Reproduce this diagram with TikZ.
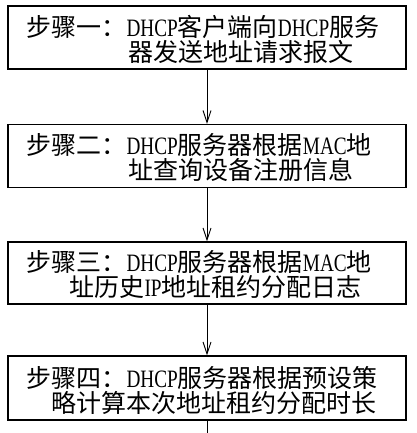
\documentclass[tikz,border=0pt]{standalone}
\usepackage{fontspec}
\newfontfamily\cjkfont{Noto Sans CJK SC}
\newfontfamily\latfont{Liberation Serif}
\newcommand{\lat}[1]{\scalebox{0.77}[1]{\latfont #1}}
\usetikzlibrary{arrows.meta}

\tikzset{
  stepbox/.style={draw, line width=1.3pt, minimum width=398pt, minimum height=63pt, inner sep=0pt},
  steptext/.style={anchor=west, align=left, inner sep=0pt, yshift=-2pt,
    font=\cjkfont\fontsize{25pt}{25pt}\selectfont},
  flow/.style={line width=0.9pt, -{Straight Barb[length=12pt,width=8pt,line width=0.9pt]}}
}

\begin{document}
\begin{tikzpicture}[x=1pt,y=1pt]
      \useasboundingbox (0,0) rectangle (416,-433);

      % step 1
      \node (s1) at (207,-37.5) [stepbox] {};
      \node (s1t) at ([xshift=19pt]s1.west) [steptext]
        {步骤一：\lat{DHCP}客户端向\lat{DHCP}服务\\\hspace*{102pt}器发送地址请求报文};

      % step 2
      \node (s2) at (207,-156) [stepbox] {};
      \node (s2t) at ([xshift=19pt]s2.west) [steptext]
        {步骤二：\lat{DHCP}服务器根据\lat{MAC}地\\\hspace*{102pt}址查询设备注册信息};

      % step 3
      \node (s3) at (207,-273) [stepbox, minimum height=62pt] {};
      \node (s3t) at ([xshift=19pt]s3.west) [steptext]
        {步骤三：\lat{DHCP}服务器根据\lat{MAC}地\\\hspace*{43pt}址历史\lat{IP}地址租约分配日志};

      % step 4
      \node (s4) at (207,-388) [stepbox, minimum height=64pt] {};
      \node (s4t) at ([xshift=19pt]s4.west) [steptext]
        {步骤四：\lat{DHCP}服务器根据预设策\\\hspace*{25pt}略计算本次地址租约分配时长};

      \coordinate (out) at (207,-433);
      \draw[flow] (s1) to (s2);
      \draw[flow] (s2) to (s3);
      \draw[flow] (s3) to (s4);
      \draw[line width=0.9pt] (s4) to (out);

    \end{tikzpicture}
\end{document}
